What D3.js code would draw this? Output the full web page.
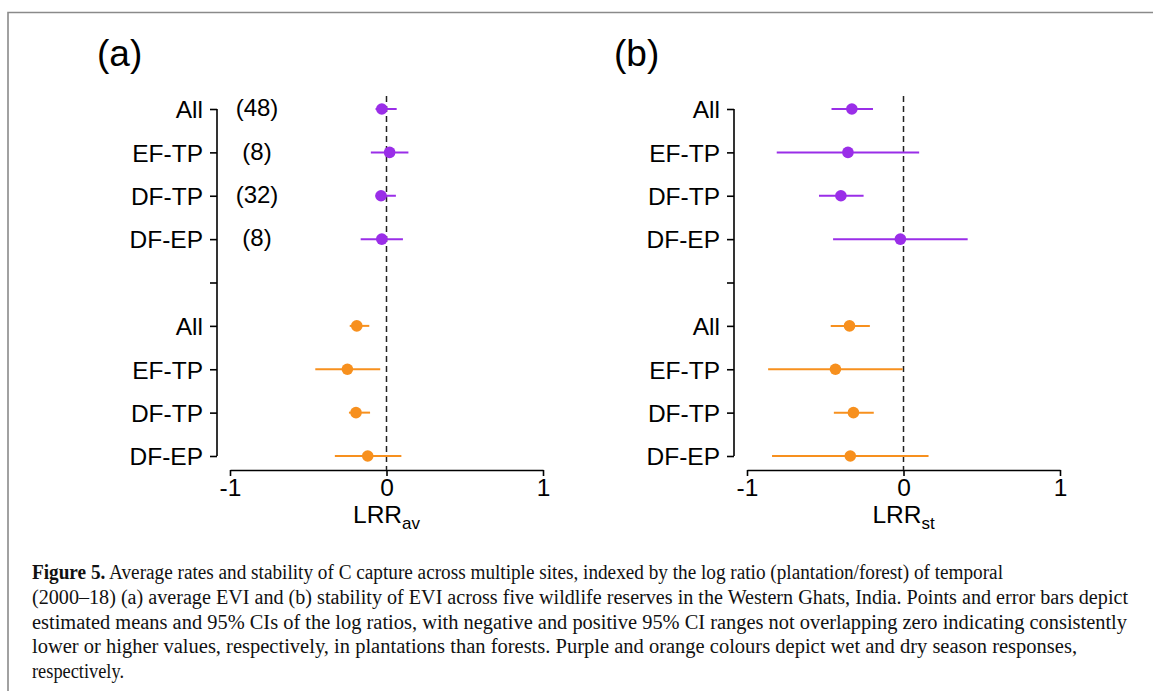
<!DOCTYPE html>
<html><head><meta charset="utf-8">
<script src="https://cdn.jsdelivr.net/npm/d3@7"></script>
<style>body{margin:0;background:#fff}svg{display:block}</style>
</head><body>
<svg id="c" width="1153" height="691"></svg>
<script>
const categories = ["All","EF-TP","DF-TP","DF-EP","","All ","EF-TP ","DF-TP ","DF-EP "];
const tickLabels = ["All","EF-TP","DF-TP","DF-EP","","All","EF-TP","DF-TP","DF-EP"];
const counts = ["(48)","(8)","(32)","(8)"];
const wetCats = ["All","EF-TP","DF-TP","DF-EP"];
const dryCats = ["All ","EF-TP ","DF-TP ","DF-EP "];
// panel a: LRR of average EVI
const avWetMean = [-0.03, 0.02, -0.035, -0.03];
const avWetLo   = [-0.07, -0.10, -0.07, -0.165];
const avWetHi   = [0.065, 0.14, 0.06, 0.105];
const avDryMean = [-0.19, -0.25, -0.195, -0.12];
const avDryLo   = [-0.235, -0.455, -0.24, -0.33];
const avDryHi   = [-0.11, -0.04, -0.105, 0.095];
// panel b: LRR of stability of EVI
const stWetMean = [-0.33, -0.355, -0.40, -0.02];
const stWetLo   = [-0.46, -0.81, -0.54, -0.45];
const stWetHi   = [-0.195, 0.10, -0.255, 0.41];
const stDryMean = [-0.345, -0.435, -0.32, -0.34];
const stDryLo   = [-0.465, -0.865, -0.445, -0.84];
const stDryHi   = [-0.215, -0.005, -0.19, 0.16];
const xTicks = [-1, 0, 1];
const captionLines = [
 ["Figure 5.", " Average rates and stability of C capture across multiple sites, indexed by the log ratio (plantation/forest) of temporal"],
 ["", "(2000–18) (a) average EVI and (b) stability of EVI across five wildlife reserves in the Western Ghats, India. Points and error bars depict"],
 ["", "estimated means and 95% CIs of the log ratios, with negative and positive 95% CI ranges not overlapping zero indicating consistently"],
 ["", "lower or higher values, respectively, in plantations than forests. Purple and orange colours depict wet and dry season responses,"],
 ["", "respectively."]
];

const WET = "#9a2ee8", DRY = "#f7901e";
const svg = d3.select("#c");
const sans = "Liberation Sans, Arial, sans-serif";

// frame
svg.append("path").attr("d","M8,691 V12.5 H1153").attr("fill","none").attr("stroke","#8a8a8a").attr("stroke-width",1.6);

function panel(ox, title, sub, wm, wl, wh, dm, dl, dh, showCounts){
  const x = d3.scaleLinear().domain([-1,1]).range([ox+13, ox+326]);
  const y = d3.scalePoint().domain(categories).range([109, 456]);
  const g = svg.append("g");
  const axX = ox; // y axis x
  // y axis
  const yAxis = d3.axisLeft(y).tickSize(7).tickSizeOuter(0).tickFormat((d,i)=>tickLabels[i]).tickPadding(7);
  const ya = g.append("g").attr("transform",`translate(${axX},0)`).call(yAxis);
  ya.select(".domain").attr("d",`M0,${y(categories[0])}V${y(categories[8])}`).attr("stroke","#000").attr("stroke-width",1.6);
  ya.selectAll(".tick line").attr("stroke","#000").attr("stroke-width",1.6);
  ya.selectAll(".tick text").attr("font-family",sans).attr("font-size",24.5).attr("fill","#000").attr("dy","0.36em");
  // x axis
  const xAxis = d3.axisBottom(x).tickValues(xTicks).tickSize(6).tickSizeOuter(0).tickPadding(3).tickFormat(d3.format("d"));
  const xa = g.append("g").attr("transform","translate(0,470)").call(xAxis);
  xa.select(".domain").attr("stroke","#000").attr("stroke-width",1.6);
  xa.selectAll(".tick line").attr("stroke","#000").attr("stroke-width",1.6);
  xa.selectAll(".tick text").attr("font-family",sans).attr("font-size",24.5).attr("fill","#000").text(d=>d<0?"-"+Math.abs(d):d);
  // zero line
  g.append("line").attr("x1",x(0)).attr("x2",x(0)).attr("y1",96).attr("y2",470)
    .attr("stroke","#222").attr("stroke-width",1.5).attr("stroke-dasharray","6,4");
  // series
  function series(cats, m, lo, hi, col){
    const s = g.append("g");
    s.selectAll("line.eb").data(cats).enter().append("line")
      .attr("x1",(d,i)=>x(lo[i])).attr("x2",(d,i)=>x(hi[i]))
      .attr("y1",d=>y(d)).attr("y2",d=>y(d)).attr("stroke",col).attr("stroke-width",2);
    s.selectAll("circle").data(cats).enter().append("circle")
      .attr("cx",(d,i)=>x(m[i])).attr("cy",d=>y(d)).attr("r",5.8).attr("fill",col);
  }
  series(wetCats, wm, wl, wh, WET);
  series(dryCats, dm, dl, dh, DRY);
  if(showCounts){
    g.selectAll("text.cnt").data(counts).enter().append("text")
      .attr("x",257).attr("y",(d,i)=>y(wetCats[i])).attr("dy","0.3em")
      .attr("text-anchor","middle").attr("font-family",sans).attr("font-size",24).text(d=>d);
  }
  // title
  g.append("text").attr("x",ox-120).attr("y",66).attr("font-family",sans).attr("font-size",37).text(title);
  // x label
  const t = g.append("text").attr("x",x(0)).attr("y",523).attr("text-anchor","middle").attr("font-family",sans).attr("font-size",24.5);
  t.append("tspan").text("LRR");
  t.append("tspan").attr("dy",6).attr("font-size",17).text(sub);
}
panel(217, "(a)", "av", avWetMean, avWetLo, avWetHi, avDryMean, avDryLo, avDryHi, true);
panel(734, "(b)", "st", stWetMean, stWetLo, stWetHi, stDryMean, stDryLo, stDryHi, false);

// caption
const capW = [971, 1096, 1095, 1045, 92];
const serif = "Liberation Serif, Times New Roman, serif";
captionLines.forEach((ln,i)=>{
  const t = svg.append("text").attr("x",32).attr("y",579+i*24.8).attr("font-family",serif).attr("font-size",20).attr("fill","#111");
  if(capW[i]) t.attr("textLength",capW[i]).attr("lengthAdjust","spacingAndGlyphs");
  if(ln[0]) t.append("tspan").attr("font-weight","bold").text(ln[0]);
  t.append("tspan").text(ln[1]);
});
</script>
</body></html>
